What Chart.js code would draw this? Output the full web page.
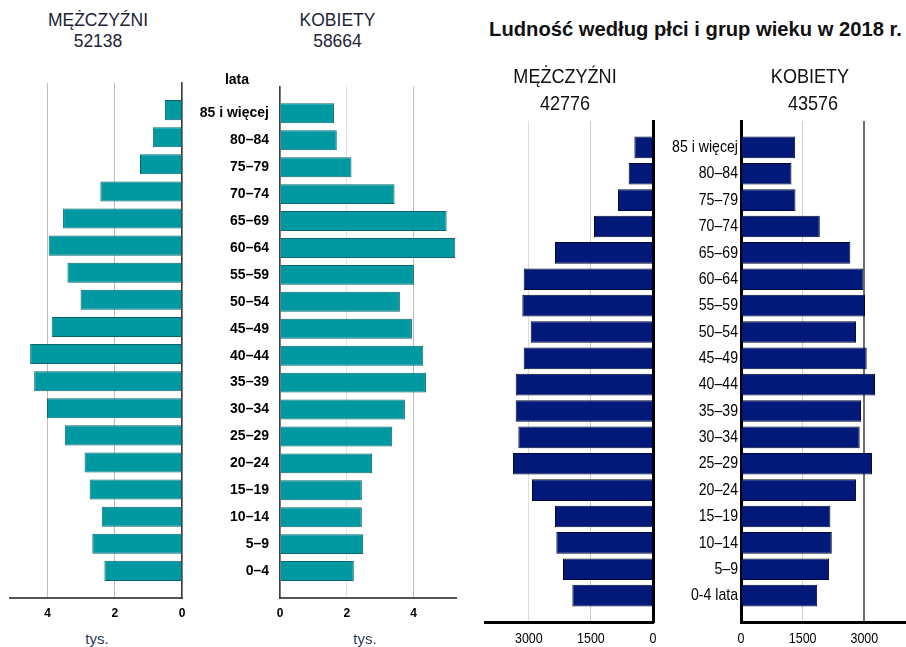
<!DOCTYPE html>
<html><head><meta charset="utf-8">
<script src="https://cdn.jsdelivr.net/npm/chart.js@4.4.1/dist/chart.umd.min.js"></script>
<style>
html,body{margin:0;padding:0;background:#fff;width:906px;height:647px;overflow:hidden;position:relative;font-family:'Liberation Sans',Arial,sans-serif;}
.t{position:absolute;white-space:nowrap;text-align:center;line-height:1;width:600px;}
canvas{position:absolute;}
.narrow{transform:scaleX(0.86);transform-origin:50% 50%;}
</style></head><body>
<canvas id="cA1" width="190" height="553" style="left:0px;top:75px"></canvas>
<canvas id="cA2" width="276" height="553" style="left:190px;top:75px"></canvas>
<canvas id="cB1" width="184" height="539" style="left:477px;top:113px"></canvas>
<canvas id="cB2" width="246" height="539" style="left:660px;top:113px"></canvas>
<script>
// ---------- DATA ----------
const agesA = ['85 i więcej','80–84','75–79','70–74','65–69','60–64','55–59','50–54','45–49','40–44','35–39','30–34','25–29','20–24','15–19','10–14','5–9','0–4'];
const menA = [0.51,0.87,1.25,2.43,3.54,3.97,3.41,3.02,3.88,4.52,4.40,4.02,3.49,2.90,2.75,2.39,2.67,2.31];
const womenA = [1.62,1.70,2.14,3.43,4.99,5.25,4.01,3.59,3.95,4.29,4.37,3.74,3.36,2.76,2.45,2.45,2.49,2.21];
const ticksA = [0,2,4];
const totalMenA = '52138';
const totalWomenA = '58664';

const agesB = ['85 i więcej','80–84','75–79','70–74','65–69','60–64','55–59','50–54','45–49','40–44','35–39','30–34','25–29','20–24','15–19','10–14','5–9','0-4 lata'];
const menB = [450,587,845,1425,2367,3123,3157,2954,3123,3316,3316,3253,3382,2923,2367,2335,2174,1948];
const womenB = [1318,1228,1325,1917,2660,2976,3017,2799,3058,3260,2920,2888,3187,2799,2175,2209,2143,1852];
const ticksB = [0,1500,3000];
const totalMenB = '42776';
const totalWomenB = '43576';
const titleB = 'Ludność według płci i grup wieku w 2018 r.';

// ---------- TEXT ----------
function txt(s, cx, cy, size, extra, cls){
  const d = document.createElement('div');
  d.className = 't' + (cls ? ' ' + cls : '');
  d.textContent = s;
  d.style.left = (cx - 300) + 'px';
  d.style.top = (cy - size/2) + 'px';
  d.style.fontSize = size + 'px';
  Object.assign(d.style, extra || {});
  document.body.appendChild(d);
}
const hdrA = {color:'#1e2436'};
txt('MĘŻCZYŹNI', 98, 21, 17.5, hdrA);
txt(totalMenA, 98, 42, 17.5, hdrA);
txt('KOBIETY', 337.5, 21, 17.5, hdrA);
txt(totalWomenA, 337.5, 42, 17.5, hdrA);
txt('lata', 237, 79, 14, {fontWeight:'bold', color:'#000'});
txt('tys.', 97, 638, 15, {color:'#2d3a58'});
txt('tys.', 365, 638, 15, {color:'#2d3a58'});
txt(titleB, 695.5, 29, 20.2, {fontWeight:'bold', color:'#111'});
txt('MĘŻCZYŹNI', 565, 75, 21, {color:'#111'}, 'narrow');
txt(totalMenB, 565, 102, 21, {color:'#111'}, 'narrow');
txt('KOBIETY', 810, 75, 21, {color:'#111'}, 'narrow');
txt(totalWomenB, 813, 102, 21, {color:'#111'}, 'narrow');

// ---------- CHARTS ----------
const SANS = "'Liberation Sans', Arial, sans-serif";

// draws tick labels horizontally condensed (narrow typeface look)
function condensedPlugin(o){
  return {
    id: 'condensed',
    afterDraw(chart){
      if (!o.condensed) return;
      const ctx = chart.ctx, xs = chart.scales.x, ys = chart.scales.y;
      const k = o.condensed;
      ctx.save();
      ctx.fillStyle = '#000';
      ctx.textBaseline = 'middle';
      ctx.font = o.tickFont.size + 'px ' + SANS;
      ctx.textAlign = 'center';
      o.ticks.forEach(v => {
        ctx.save();
        ctx.translate(xs.getPixelForValue(v), xs.top + o.tickPad + o.tickFont.size / 2);
        ctx.scale(k, 1);
        ctx.fillText(String(v), 0, 0);
        ctx.restore();
      });
      if (o.side === 'women') {
        ctx.font = o.labelFont.size + 'px ' + SANS;
        ctx.textAlign = 'right';
        o.labels.forEach((lab, i) => {
          ctx.save();
          ctx.translate(ys.right - o.labelPad, ys.getPixelForValue(i));
          ctx.scale(k, 1);
          ctx.fillText(lab, 0, 0);
          ctx.restore();
        });
      }
      ctx.restore();
    }
  };
}

function panel(id, o){
  const men = o.side === 'men';
  const builtIn = !o.condensed;
  new Chart(document.getElementById(id), {
    type: 'bar',
    data: {
      datasets: [{
        data: o.values.map((v, i) => ({x: v, y: i})),
        backgroundColor: o.barColor,
        borderColor: o.barBorder,
        borderWidth: 1,
        barPercentage: o.barPct,
        categoryPercentage: 1
      }]
    },
    plugins: [condensedPlugin(o)],
    options: {
      indexAxis: 'y',
      responsive: false,
      animation: false,
      events: [],
      layout: {padding: o.pad},
      plugins: {legend: {display: false}, tooltip: {enabled: false}},
      scales: {
        x: {
          type: 'linear',
          position: 'bottom',
          reverse: men,
          offset: false,
          min: 0,
          max: o.xMax,
          afterBuildTicks: s => { s.ticks = o.ticks.map(v => ({value: v})); },
          afterFit: s => { s.height = 30; },
          grid: {
            drawTicks: false,
            offset: false,
            color: c => o.gridColor(c.tick ? c.tick.value : 0),
            lineWidth: c => o.gridWidth(c.tick ? c.tick.value : 0)
          },
          border: {display: true, color: o.axisColor, width: o.axisWidth},
          ticks: {
            display: builtIn,
            color: '#000',
            padding: o.tickPad,
            font: o.tickFont,
            maxRotation: 0,
            autoSkip: false,
            callback: v => String(v)
          }
        },
        y: {
          type: 'linear',
          position: men ? 'right' : 'left',
          reverse: true,
          offset: false,
          min: -1,
          max: 18,
          afterBuildTicks: s => { s.ticks = o.labels.map((_, i) => ({value: i})); },
          afterFit: s => { s.width = men ? 0 : o.yWidth; },
          grid: {display: false, offset: false},
          border: {display: true, color: o.zeroColor, width: o.zeroWidth},
          ticks: {
            display: !men && builtIn,
            autoSkip: false,
            color: '#000',
            padding: o.labelPad,
            font: o.labelFont,
            callback: v => o.labels[v]
          }
        }
      }
    }
  });
}

const teal = '#0099a2', tealEdge = '#0a666b';
const navy = '#03197a', navyEdge = '#000a2e';

panel('cA1', {
  side: 'men', values: menA, labels: agesA, ticks: ticksA, xMax: 5.12,
  pad: {left: 10, right: 8, top: 8, bottom: 0},
  barColor: teal, barBorder: tealEdge, barPct: 0.74,
  gridColor: v => '#bdbdbd', gridWidth: v => 1,
  zeroColor: '#3c3c3c', zeroWidth: 1.5, axisColor: '#555', axisWidth: 2,
  tickFont: {family: SANS, size: 12, weight: 'bold'}, tickPad: 8
});
panel('cA2', {
  side: 'women', values: womenA, labels: agesA, ticks: ticksA, xMax: 5.27, yWidth: 90,
  pad: {left: 0, right: 10, top: 8, bottom: 0},
  barColor: teal, barBorder: tealEdge, barPct: 0.74,
  gridColor: v => v === 2 ? '#e2e2e2' : '#bdbdbd', gridWidth: v => 1,
  zeroColor: '#3c3c3c', zeroWidth: 1.5, axisColor: '#555', axisWidth: 2,
  tickFont: {family: SANS, size: 12, weight: 'bold'}, tickPad: 8,
  labelFont: {family: SANS, size: 14, weight: 'bold'}, labelPad: 3
});
panel('cB1', {
  side: 'men', values: menB, labels: agesB, ticks: ticksB, xMax: 4058, condensed: 0.83,
  pad: {left: 8, right: 8, top: 8, bottom: 0},
  barColor: navy, barBorder: navyEdge, barPct: 0.82,
  gridColor: v => v === 3000 ? '#dddddd' : '#c8c8c8', gridWidth: v => 1,
  zeroColor: '#000', zeroWidth: 3, axisColor: '#000', axisWidth: 3,
  tickFont: {family: SANS, size: 15}, tickPad: 9
});
panel('cB2', {
  side: 'women', values: womenB, labels: agesB, ticks: ticksB, xMax: 3990, yWidth: 81, condensed: 0.83,
  pad: {left: 0, right: 1, top: 8, bottom: 0},
  barColor: navy, barBorder: navyEdge, barPct: 0.82,
  gridColor: v => v === 3000 ? '#6e6e6e' : '#cfcfcf', gridWidth: v => v === 3000 ? 2 : 1,
  zeroColor: '#000', zeroWidth: 3, axisColor: '#000', axisWidth: 3,
  tickFont: {family: SANS, size: 15}, tickPad: 9,
  labelFont: {family: SANS, size: 17}, labelPad: 3
});
</script>
</body></html>
